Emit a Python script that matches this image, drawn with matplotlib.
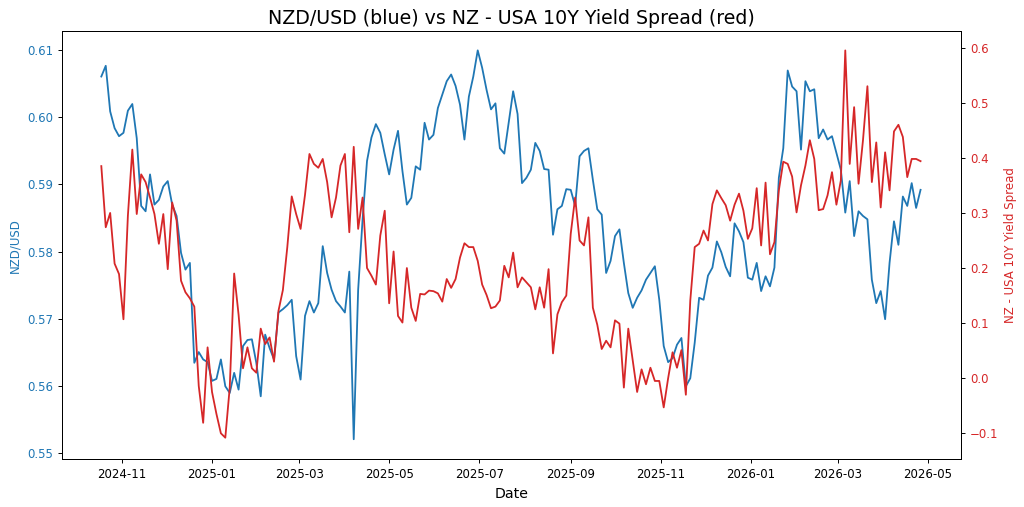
import matplotlib
matplotlib.use("Agg")
import matplotlib.pyplot as plt
import matplotlib.dates as mdates
import pandas as pd
import numpy as np

# Sample dates (every 3 calendar days)
start_date = "2024-10-18"
n_points = 186

nzdusd = [
    0.6061, 0.6077, 0.6009, 0.5984, 0.5972, 0.5977, 0.6010, 0.6020, 0.5969, 0.5868,
    0.5860, 0.5915, 0.5870, 0.5877, 0.5897, 0.5905, 0.5870, 0.5853, 0.5798, 0.5773,
    0.5783, 0.5634, 0.5650, 0.5639, 0.5635, 0.5607, 0.5610, 0.5639, 0.5599, 0.5589,
    0.5619, 0.5594, 0.5659, 0.5668, 0.5669, 0.5634, 0.5584, 0.5676, 0.5656, 0.5639,
    0.5709, 0.5714, 0.5720, 0.5728, 0.5644, 0.5609, 0.5704, 0.5726, 0.5709, 0.5723,
    0.5808, 0.5768, 0.5743, 0.5726, 0.5718, 0.5709, 0.5770, 0.5520, 0.5743, 0.5848,
    0.5935, 0.5970, 0.5990, 0.5977, 0.5945, 0.5915, 0.5952, 0.5980, 0.5920, 0.5870,
    0.5880, 0.5927, 0.5922, 0.5992, 0.5967, 0.5974, 0.6014, 0.6034, 0.6054, 0.6064,
    0.6047, 0.6019, 0.5967, 0.6031, 0.6061, 0.6100, 0.6074, 0.6041, 0.6012, 0.6021,
    0.5954, 0.5946, 0.5992, 0.6039, 0.6005, 0.5902, 0.5910, 0.5922, 0.5962, 0.5950,
    0.5923, 0.5922, 0.5825, 0.5863, 0.5868, 0.5893, 0.5892, 0.5868, 0.5942, 0.5950,
    0.5954, 0.5907, 0.5863, 0.5855, 0.5768, 0.5786, 0.5823, 0.5833, 0.5783, 0.5738,
    0.5716, 0.5731, 0.5742, 0.5758, 0.5768, 0.5778, 0.5728, 0.5659, 0.5635, 0.5641,
    0.5661, 0.5671, 0.5599, 0.5611, 0.5664, 0.5731, 0.5728, 0.5764, 0.5776, 0.5815,
    0.5799, 0.5777, 0.5763, 0.5842, 0.5830, 0.5814, 0.5761, 0.5758, 0.5783, 0.5741,
    0.5763, 0.5748, 0.5776, 0.5910, 0.5954, 0.6070, 0.6046, 0.6039, 0.5952, 0.6054,
    0.6039, 0.6042, 0.5969, 0.5982, 0.5967, 0.5972, 0.5947, 0.5922, 0.5858, 0.5905,
    0.5823, 0.5860, 0.5853, 0.5848, 0.5758, 0.5723, 0.5741, 0.5699, 0.5783, 0.5845,
    0.5810, 0.5882, 0.5868, 0.5902, 0.5865, 0.5892,
]

spread = [
    0.385, 0.274, 0.300, 0.208, 0.189, 0.107, 0.295, 0.415, 0.298, 0.370,
    0.356, 0.328, 0.298, 0.244, 0.298, 0.198, 0.319, 0.286, 0.177, 0.156,
    0.145, 0.130, -0.014, -0.081, 0.056, -0.025, -0.065, -0.100, -0.108, -0.017,
    0.190, 0.115, 0.018, 0.056, 0.018, 0.010, 0.090, 0.062, 0.074, 0.030,
    0.122, 0.160, 0.238, 0.330, 0.298, 0.271, 0.333, 0.407, 0.389, 0.382,
    0.398, 0.356, 0.292, 0.328, 0.386, 0.407, 0.265, 0.420, 0.271, 0.328,
    0.200, 0.186, 0.170, 0.259, 0.304, 0.136, 0.230, 0.113, 0.101, 0.200,
    0.128, 0.104, 0.153, 0.152, 0.159, 0.158, 0.154, 0.139, 0.180, 0.164,
    0.180, 0.219, 0.245, 0.238, 0.238, 0.213, 0.170, 0.151, 0.127, 0.130,
    0.141, 0.204, 0.183, 0.228, 0.165, 0.183, 0.174, 0.165, 0.125, 0.165,
    0.128, 0.198, 0.045, 0.116, 0.138, 0.150, 0.262, 0.328, 0.250, 0.241,
    0.292, 0.128, 0.097, 0.053, 0.068, 0.056, 0.105, 0.099, -0.017, 0.090,
    0.032, -0.025, 0.016, -0.011, 0.019, -0.005, -0.005, -0.053, 0.000, 0.047,
    0.019, 0.051, -0.030, 0.141, 0.238, 0.244, 0.268, 0.250, 0.316, 0.341,
    0.327, 0.314, 0.286, 0.315, 0.335, 0.304, 0.253, 0.272, 0.345, 0.241,
    0.355, 0.225, 0.247, 0.341, 0.393, 0.389, 0.366, 0.301, 0.350, 0.386,
    0.432, 0.398, 0.305, 0.307, 0.332, 0.374, 0.315, 0.359, 0.595, 0.389,
    0.492, 0.353, 0.432, 0.530, 0.356, 0.428, 0.310, 0.410, 0.341, 0.448,
    0.460, 0.438, 0.365, 0.398, 0.398, 0.394,
]

dates = pd.date_range(start_date, periods=n_points, freq="3D")

BLUE = "tab:blue"
RED = "tab:red"

fig = plt.figure(figsize=(10.24, 5.07), dpi=100)
ax1 = fig.add_axes([0.0605, 0.094, 0.878, 0.845])
ax2 = ax1.twinx()

ax1.plot(dates, nzdusd, color=BLUE, linewidth=1.3)
ax2.plot(dates, spread, color=RED, linewidth=1.3)

ax1.set_xlim(pd.Timestamp("2024-09-21 08:00"), pd.Timestamp("2026-05-23 10:00"))
ax1.set_ylim(0.549, 0.6129)
ax2.set_ylim(-0.1473, 0.6304)

ax1.xaxis.set_major_locator(mdates.MonthLocator(bymonth=[1, 3, 5, 7, 9, 11]))
ax1.xaxis.set_major_formatter(mdates.DateFormatter("%Y-%m"))

fs_tick = 8.5
ax1.tick_params(axis="x", labelsize=fs_tick, length=3, width=0.7)
ax1.tick_params(axis="y", labelsize=fs_tick, labelcolor=BLUE, length=3, width=0.7)
ax2.tick_params(axis="y", labelsize=fs_tick, labelcolor=RED, length=3, width=0.7)

ax1.set_xlabel("Date", fontsize=10.2)
ax1.set_ylabel("NZD/USD", color=BLUE, fontsize=8.5)
ax2.set_ylabel("NZ - USA 10Y Yield Spread", color=RED, fontsize=8.5)
ax1.set_title("NZD/USD (blue) vs NZ - USA 10Y Yield Spread (red)", fontsize=13.7, pad=5)

for ax in (ax1, ax2):
    for sp in ax.spines.values():
        sp.set_linewidth(0.7)

fig.savefig("out.png", dpi=100)
